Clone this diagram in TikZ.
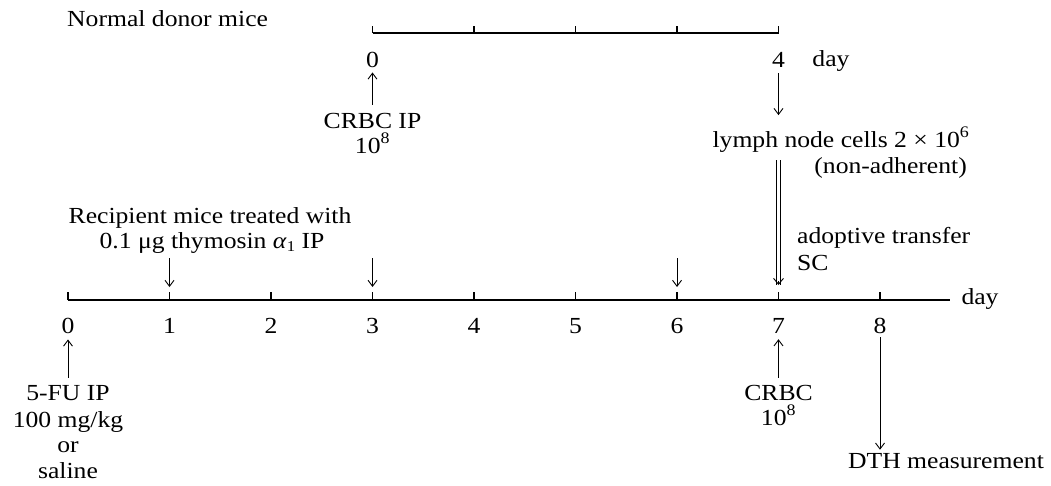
\documentclass[tikz,border=0pt]{standalone}
\usepackage{fontspec}
\setmainfont{Liberation Serif}[FakeStretch=1.115]
\usetikzlibrary{arrows.meta}
\begin{document}
\begin{tikzpicture}[x=1pt,y=-1pt,
  txt/.style={inner sep=0pt, anchor=base, font=\fontsize{23}{26}\selectfont},
  axisline/.style={line width=1.7pt},
  tickmark/.style={line width=1.3pt},
  arr/.style={line width=0.9pt, -{Straight Barb[length=6pt,width=9pt]}},
]
\useasboundingbox (0,0) rectangle (1051,485);
% ---------- top axis (donor) ----------
\foreach \i/\x in {0/372.5,1/474,2/575.5,3/677,4/778.5}{
  \coordinate (T\i) at (\x,33);
  \draw[tickmark] (\x,33) -- (\x,26);
}
\draw[axisline] (T0) -- (T4);
\node[txt, anchor=base west] (donor) at (67,26) {Normal donor mice};
\node[txt] (t0) at (372.5,67) {0};
\node[txt] (t4) at (778.5,67) {4};
\node[txt] (tday) at (831,66) {day};
\node[txt] (crbcA) at (372.5,128) {CRBC IP};
\node[txt] (crbcB) at (372.5,153) {10\textsuperscript{8}};
\draw[arr, shorten <=8pt, shorten >=5pt] (crbcA.north) -- (t0.south);
\node[txt] (lymph) at (841,147) {lymph node cells 2 × 10\textsuperscript{6}};
\node[txt, anchor=base east] (nonad) at (967,173) {(non-adherent)};
\draw[arr, shorten <=6pt, shorten >=12pt] (t4.south) -- (t4.south |- lymph.north);
% ---------- bottom axis (recipient) ----------
\foreach \i/\x in {0/68,1/169.5,2/271,3/372.5,4/474,5/575.5,6/677,7/778.5,8/880}{
  \coordinate (B\i) at (\x,300);
  \draw[tickmark] (\x,300) -- (\x,292);
  \node[txt] (b\i) at (\x,333) {\i};
}
\coordinate (Bend) at (950,300);
\draw[axisline] (B0) -- (Bend);
\node[txt] (bday) at (980,304) {day};
\node[txt] (recA) at (210,223) {Recipient mice treated with};
\node[txt] (recB) at (212,248) {0.1 μg thymosin \textit{α}\raisebox{-.3ex}{\fontsize{15}{15}\selectfont 1} IP};
\draw[arr, shorten >=13pt] (169.5,258) coordinate (a1) -- (B1);
\draw[arr, shorten >=13pt] (372.5,258) coordinate (a3) -- (B3);
\draw[arr, shorten >=13pt] (677,258) coordinate (a6) -- (B6);
% double arrow (adoptive transfer)
\coordinate (dtop) at (778.5,160);
\coordinate (dbot) at (778.5,285);
\draw[line width=0.9pt] ([xshift=-2.2pt]dtop) -- ([xshift=-2.2pt]dbot);
\draw[line width=0.9pt] ([xshift=2.2pt]dtop) -- ([xshift=2.2pt]dbot);
\draw[line width=0.9pt, -{Straight Barb[length=6pt,width=10pt]}] ([yshift=4pt]dbot) -- (dbot);
\node[txt, anchor=base west] (adopt) at (797,243) {adoptive transfer};
\node[txt, anchor=base west] (sc) at (797,270) {SC};
% below day 0
\node[txt] (fuA) at (68,400) {5-FU IP};
\node[txt] (fuB) at (68,427) {100 mg/kg};
\node[txt] (fuC) at (68,452) {or};
\node[txt] (fuD) at (68,478) {saline};
\draw[arr, shorten <=7pt, shorten >=6pt] (fuA.north) -- (b0.south);
% below day 7
\node[txt] (crA) at (778.5,400) {CRBC};
\node[txt] (crB) at (778.5,425) {10\textsuperscript{8}};
\draw[arr, shorten <=7pt, shorten >=6pt] (crA.north) -- (b7.south);
% below day 8
\node[txt] (dth) at (946,468) {DTH measurement};
\draw[arr, shorten <=4pt, shorten >=3pt] (b8.south) -- (b8.south |- dth.north);
\end{tikzpicture}
\end{document}
